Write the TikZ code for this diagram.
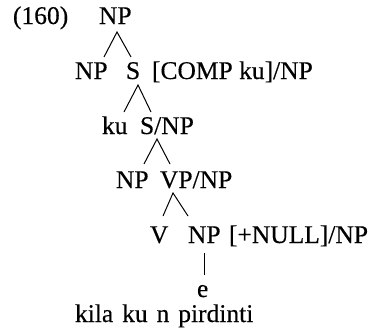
\documentclass[tikz,border=0pt]{standalone}
\usepackage{fontspec}
\setmainfont[FakeBold=0.35]{Liberation Serif}
\begin{document}
\begin{tikzpicture}[x=1pt,y=-1pt,
  lbl/.style={anchor=base west,inner sep=0pt,outer sep=0pt,font=\fontsize{25.5}{30}\selectfont},
  branch/.style={line width=1pt}]
\useasboundingbox (0,0) rectangle (372,332);
% labels
\node[lbl] (num) at (13,24) {(160)};
\node[lbl] (np1) at (99,24) {NP};
\node[lbl] (np2) at (75,79) {NP};
\node[lbl] (s2) at (126,79) {S};
\node[lbl] (f2) at (152,79) {[COMP ku]/NP};
\node[lbl] (ku3) at (102,134) {ku};
\node[lbl] (snp3) at (140,134) {S/NP};
\node[lbl] (np4) at (116,188) {NP};
\node[lbl] (vp4) at (160,188) {VP/NP};
\node[lbl] (v5) at (150,243) {V};
\node[lbl] (np5) at (188,243) {NP};
\node[lbl] (f5) at (229,243) {[+NULL]/NP};
\node[lbl] (e6) at (197,297) {e};
\node[lbl] (kila) at (75,322) {\spaceskip=0.35em kila ku n pirdinti};
% branch points
\coordinate (a1) at (117,32);  \coordinate (l1) at (104,57);  \coordinate (r1) at (131,57);
\coordinate (a2) at (138,85);  \coordinate (l2) at (124,112); \coordinate (r2) at (151,112);
\coordinate (a3) at (157,139); \coordinate (l3) at (144,164); \coordinate (r3) at (170,164);
\coordinate (a4) at (173,193); \coordinate (l4) at (163,216); \coordinate (r4) at (188,216);
\coordinate (t5) at (204,253); \coordinate (b5) at (204,275);
\draw[branch] (l1) -- (a1) -- (r1);
\draw[branch] (l2) -- (a2) -- (r2);
\draw[branch] (l3) -- (a3) -- (r3);
\draw[branch] (l4) -- (a4) -- (r4);
\draw[branch] (t5) -- (b5);
\end{tikzpicture}
\end{document}
